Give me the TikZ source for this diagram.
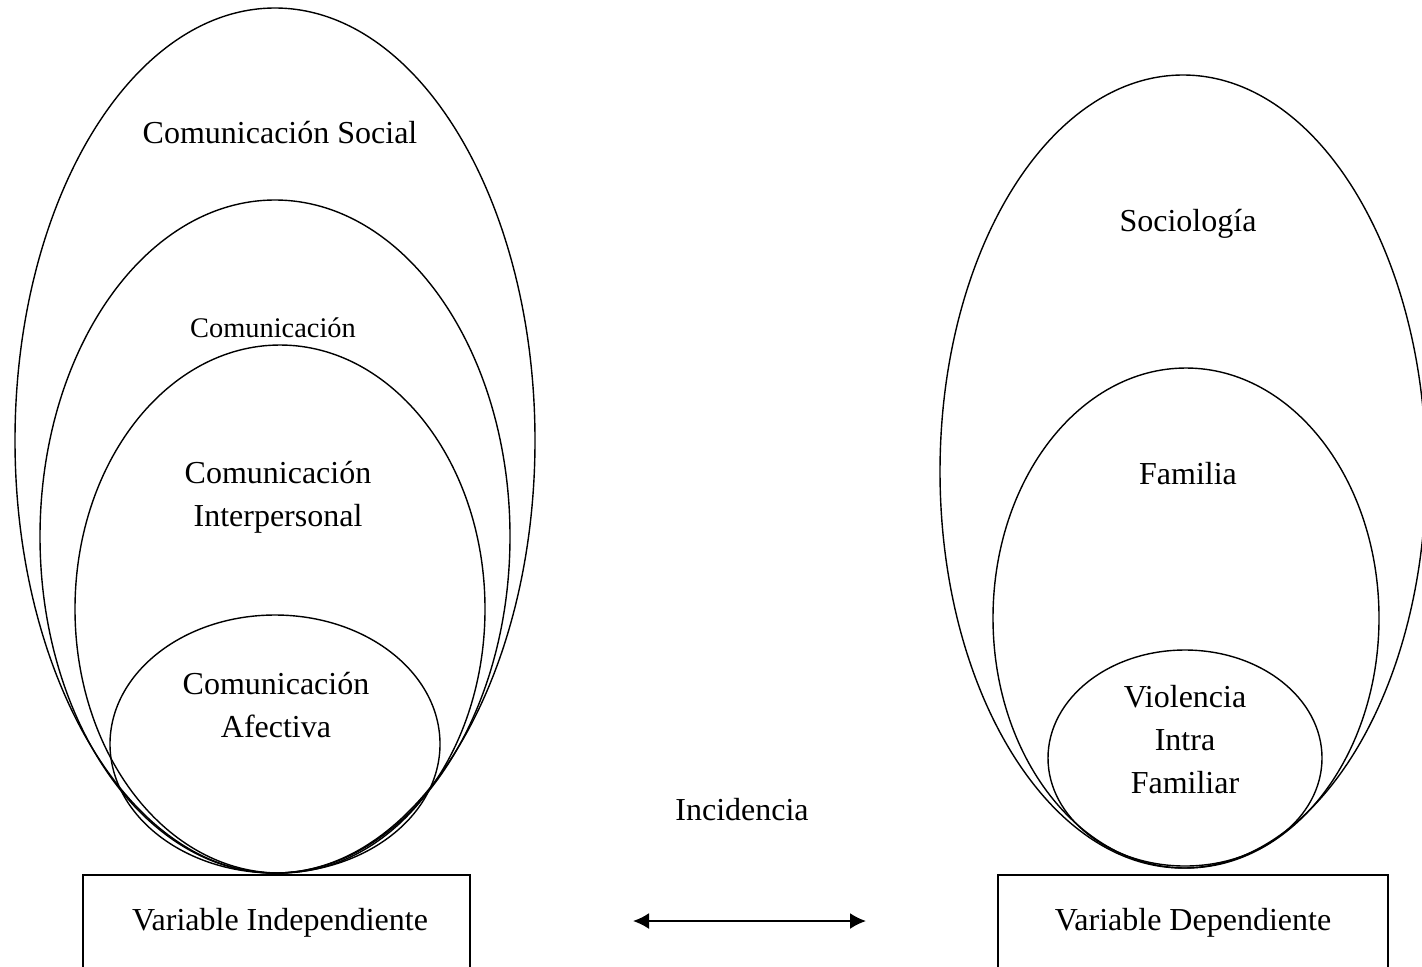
\documentclass[tikz,border=0pt]{standalone}
\usepackage{fontspec}
\setmainfont{Liberation Serif}
\usetikzlibrary{positioning, arrows.meta}

\tikzset{
	ring/.style={line width=0.7pt},
	lbl/.style={align=center, inner sep=0pt, font=\fontsize{16}{21.5}\selectfont},
	lblsmall/.style={align=center, inner sep=0pt, font=\fontsize{14.2}{19}\selectfont},
}

\begin{document}
\begin{tikzpicture}[x=0.5pt, y=-0.5pt]
	\useasboundingbox (0,0) rectangle (1422,966);
	
	% independiente
	\draw [ring] (275,440.5) ellipse [x radius=130pt, y radius=216.25pt];
	\draw [ring] (275,536.5) ellipse [x radius=117.5pt, y radius=168.25pt];
	\draw [ring] (280,609) ellipse [x radius=102.5pt, y radius=132pt];
	\draw [ring] (275,744) ellipse [x radius=82.5pt, y radius=64.5pt];
	
	\node [lbl] (social) at (280,133) {Comunicación Social};
	\node [lblsmall] (comun) at (273,328) {Comunicación};
	\node [lbl] (inter) at (278,497) {Comunicación\\ Interpersonal};
	\node [lbl] (afect) at (276,705) {Comunicación\\ Afectiva};
	
	% dependiente
	\draw [ring] (1183,471.5) ellipse [x radius=121.5pt, y radius=198.25pt];
	\draw [ring] (1186,618) ellipse [x radius=96.5pt, y radius=125pt];
	\draw [ring] (1185,758) ellipse [x radius=68.5pt, y radius=54pt];
	
	\node [lbl] (socio) at (1188,224) {Sociología};
	\node [lbl] (famil) at (1188,474) {Familia};
	\node [lbl] (viol) at (1185,740) {Violencia\\ Intra\\ Familiar};
	
	% variables
	\draw [ring] (83,1000) -- (83,875) -- (470,875) -- (470,1000);
	\draw [ring] (998,1000) -- (998,875) -- (1388,875) -- (1388,1000);
	\node [lbl] (indep) at (280,923) {Variable Independiente};
	\node [lbl] (dep) at (1193,923) {Variable Dependiente};
	
	\node [lbl] (incid) at (742,810) {Incidencia};
	\coordinate (izq) at (633,921);
	\coordinate (der) at (866,921);
	\draw [line width=1pt, {Latex[length=8pt, width=8pt]}-{Latex[length=8pt, width=8pt]}] (izq) -- (der);
\end{tikzpicture}
\end{document}
